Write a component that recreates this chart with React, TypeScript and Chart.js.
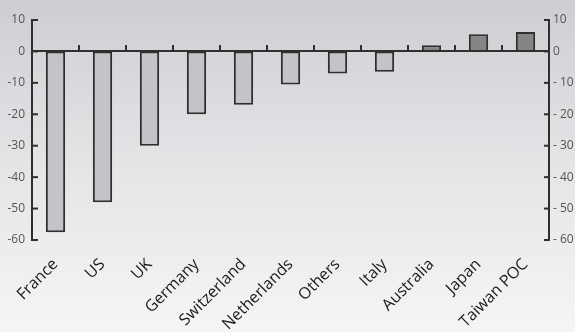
import React, { useEffect, useRef } from "react";
import { Chart, registerables } from "chart.js";

Chart.register(...registerables);

const categories = [
  "France",
  "US",
  "UK",
  "Germany",
  "Switzerland",
  "Netherlands",
  "Others",
  "Italy",
  "Australia",
  "Japan",
  "Taiwan POC",
];
const values = [-57.5, -48, -30, -20, -17, -10.5, -7, -6.5, 2, 5.5, 6.2];
const yMin = -60;
const yMax = 10;
const yStep = 10;

const AXIS_COLOR = "#2f2f2f";
const NEG_FILL = "#c3c4c7";
const POS_FILL = "#858586";

const tickMarks = {
  id: "tickMarks",
  afterDatasetsDraw(chart: any) {
    const { ctx, scales, chartArea } = chart;
    const x = scales.x;
    const y = scales.y;
    const y2 = scales.y2;
    ctx.save();
    ctx.strokeStyle = AXIS_COLOR;
    ctx.lineWidth = 2;
    const y0 = Math.round(y.getPixelForValue(0));
    // zero line
    ctx.beginPath();
    ctx.moveTo(chartArea.left, y0);
    ctx.lineTo(chartArea.right, y0);
    ctx.stroke();
    // category separator ticks on zero line (pointing up)
    for (let i = 1; i < categories.length; i++) {
      const px = Math.round((x.getPixelForValue(i - 1) + x.getPixelForValue(i)) / 2);
      ctx.beginPath();
      ctx.moveTo(px, y0);
      ctx.lineTo(px, y0 - 6);
      ctx.stroke();
    }
    // inward ticks on y axes
    y.ticks.forEach((t: any) => {
      const py = y.getPixelForValue(t.value);
      ctx.beginPath();
      ctx.moveTo(chartArea.left, py);
      ctx.lineTo(chartArea.left + 6, py);
      ctx.stroke();
    });
    y2.ticks.forEach((t: any) => {
      const py = y2.getPixelForValue(t.value);
      ctx.beginPath();
      ctx.moveTo(chartArea.right, py);
      ctx.lineTo(chartArea.right - 5, py);
      ctx.stroke();
    });
    ctx.restore();
  },
};

export default function App() {
  const ref = useRef<HTMLCanvasElement | null>(null);
  useEffect(() => {
    if (!ref.current) return;
    const chart = new Chart(ref.current, {
      type: "bar",
      data: {
        labels: categories,
        datasets: [
          {
            data: values,
            backgroundColor: values.map((v) => (v >= 0 ? POS_FILL : NEG_FILL)),
            borderColor: AXIS_COLOR,
            borderWidth: 2,
            borderSkipped: false,
            inflateAmount: 0,
            categoryPercentage: 1,
            barPercentage: 0.41,
          },
        ],
      },
      options: {
        responsive: false,
        animation: false,
        layout: { padding: { top: 20, left: 0, right: 0, bottom: 0 }, autoPadding: false },
        plugins: { legend: { display: false }, tooltip: { enabled: false } },
        scales: {
          x: {
            position: "bottom",
            grid: { display: false },
            border: { display: false },
            ticks: {
              minRotation: 45,
              maxRotation: 45,
              autoSkip: false,
              padding: 7,
              color: "#1a1a1a",
              font: { family: "Open Sans", size: 16 },
            },
            afterFit: (s: any) => {
              s.height = 92;
            },
          },
          y: {
            position: "left",
            min: yMin,
            max: yMax,
            ticks: {
              stepSize: yStep,
              padding: 7,
              color: "#555",
              font: { family: "Open Sans", size: 12 },
            },
            grid: { display: false, drawTicks: false },
            border: { display: true, color: AXIS_COLOR, width: 2 },
            afterFit: (s: any) => {
              s.width = 32;
            },
          },
          y2: {
            position: "right",
            min: yMin,
            max: yMax,
            ticks: {
              stepSize: yStep,
              padding: 4,
              color: "#555",
              font: { family: "Open Sans", size: 12 },
              callback: (v: any) => (v < 0 ? "- " + Math.abs(v) : String(v)),
            },
            grid: { display: false, drawTicks: false },
            border: { display: true, color: AXIS_COLOR, width: 2 },
            afterFit: (s: any) => {
              s.width = 26;
            },
          },
        },
      },
      plugins: [tickMarks],
    });
    return () => chart.destroy();
  }, []);
  return (
    <div
      style={{
        position: "absolute",
        left: 0,
        top: 0,
        width: 575,
        height: 332,
        background: "linear-gradient(to bottom, #cdced1 0%, #e4e5e7 50%, #f5f5f6 100%)",
      }}
    >
      <canvas ref={ref} width={575} height={332} style={{ display: "block" }} />
    </div>
  );
}
